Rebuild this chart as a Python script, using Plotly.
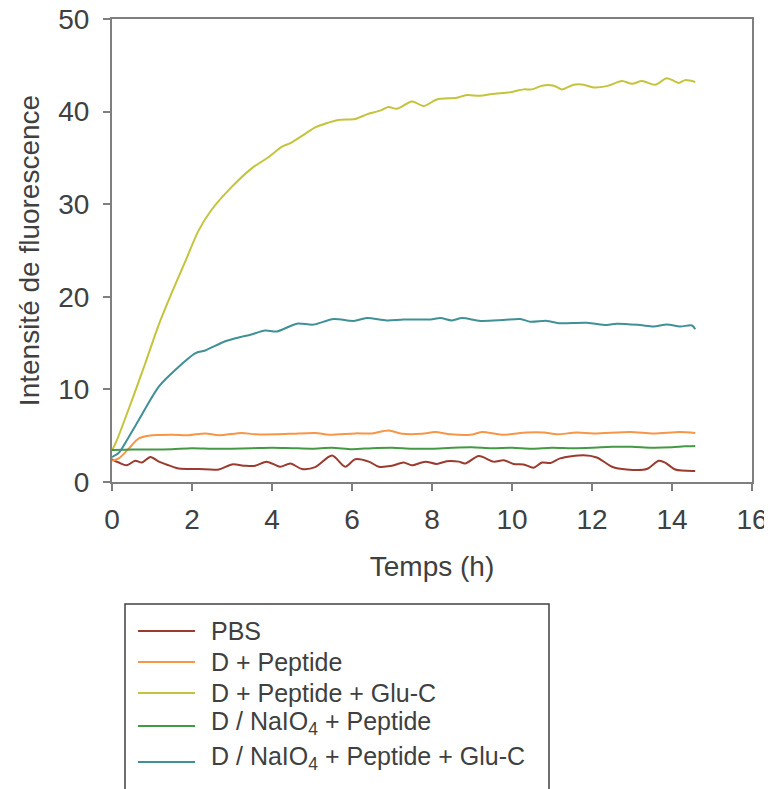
import plotly.graph_objects as go

# ---- data ----
t_pbs = [0, 0.17, 0.37, 0.58, 0.75, 0.96, 1.17, 1.42, 1.67, 2.17, 2.67, 3.0, 3.33, 3.58, 3.87, 4.2, 4.46,
         4.75, 5.08, 5.5, 5.83, 6.08, 6.42, 6.67, 7.0, 7.29, 7.5, 7.83, 8.12, 8.37, 8.67, 8.83, 9.17,
         9.54, 9.79, 10.04, 10.29, 10.54, 10.75, 10.96, 11.2, 11.79, 12.12, 12.5, 12.87, 13.37, 13.67,
         13.83, 14.08, 14.58]
y_pbs = [2.45, 2.1, 1.8, 2.3, 2.1, 2.7, 2.2, 1.8, 1.45, 1.4, 1.35, 1.9, 1.75, 1.75, 2.2, 1.65, 2.0,
         1.4, 1.6, 2.85, 1.65, 2.45, 2.2, 1.65, 1.75, 2.1, 1.8, 2.2, 1.95, 2.25, 2.2, 2.0, 2.8,
         2.2, 2.35, 1.95, 1.9, 1.55, 2.1, 2.05, 2.55, 2.9, 2.65, 1.65, 1.35, 1.4, 2.3,
         2.1, 1.35, 1.2]

t_pep = [0, 0.17, 0.42, 0.67, 0.92, 1.49, 1.92, 2.33, 2.67, 3.25, 3.58, 4.42, 5.08, 5.42, 6.08, 6.5,
         6.92, 7.25, 7.75, 8.08, 8.46, 8.96, 9.25, 9.75, 10.37, 10.79, 11.12, 11.62, 12.04, 12.96,
         13.54, 14.2, 14.58]
y_pep = [2.3, 2.55, 3.6, 4.7, 5.0, 5.1, 5.05, 5.25, 5.05, 5.3, 5.15, 5.2, 5.3, 5.1, 5.25, 5.25,
         5.55, 5.2, 5.2, 5.4, 5.15, 5.1, 5.4, 5.1, 5.35, 5.35, 5.15, 5.35, 5.25, 5.4,
         5.25, 5.4, 5.3]

t_glu = [0, 0.12, 0.5, 0.83, 1.17, 1.49, 1.83, 2.17, 2.49, 3.0, 3.5, 3.92, 4.24, 4.46, 4.83, 5.08,
         5.66, 6.08, 6.37, 6.7, 6.91, 7.12, 7.5, 7.79, 8.12, 8.62, 8.87, 9.2, 9.5, 9.96, 10.29, 10.5,
         10.75, 11.04, 11.25, 11.54, 11.79, 12.04, 12.37, 12.75, 13.0, 13.25, 13.58, 13.87, 14.17,
         14.33, 14.58]
y_glu = [3.4, 4.5, 8.85, 12.8, 17.0, 20.4, 23.8, 27.2, 29.4, 31.9, 33.9, 35.1, 36.2, 36.6, 37.6, 38.3,
         39.1, 39.2, 39.7, 40.1, 40.5, 40.3, 41.1, 40.6, 41.3, 41.5, 41.8, 41.7, 41.9, 42.1, 42.4, 42.4,
         42.8, 42.8, 42.4, 42.9, 42.9, 42.6, 42.75, 43.3, 43.0, 43.3, 42.9, 43.6, 43.1,
         43.4, 43.2]

t_naio = [0, 0.5, 1.0, 1.5, 2.0, 2.5, 3.0, 3.5, 4.0, 4.5, 5.0, 5.5, 6.0, 6.5, 7.0, 7.5, 8.0, 8.5,
          9.0, 9.5, 10.0, 10.5, 11.0, 11.5, 12.0, 12.5, 13.0, 13.5, 14.0, 14.3, 14.58]
y_naio = [3.45, 3.5, 3.5, 3.55, 3.65, 3.6, 3.6, 3.65, 3.7, 3.65, 3.6, 3.7, 3.55, 3.65, 3.7, 3.6,
          3.6, 3.7, 3.75, 3.65, 3.7, 3.6, 3.7, 3.65, 3.7, 3.8, 3.8, 3.7, 3.75, 3.85, 3.9]

t_naio_glu = [0, 0.17, 0.33, 0.67, 1.17, 1.58, 2.08, 2.33, 2.83, 3.25, 3.46, 3.83, 4.12, 4.62, 5.04,
              5.54, 6.04, 6.37, 6.87, 7.29, 7.96, 8.21, 8.5, 8.75, 9.21, 9.79, 10.21, 10.46, 10.87,
              11.17, 11.87, 12.37, 12.62, 13.2, 13.54, 13.87, 14.2, 14.5, 14.58]
y_naio_glu = [2.7, 3.15, 4.2, 6.7, 10.3, 12.1, 13.9, 14.2, 15.2, 15.7, 15.9, 16.35, 16.25, 17.1, 17.0,
              17.6, 17.4, 17.7, 17.45, 17.55, 17.55, 17.7, 17.45, 17.7, 17.4, 17.5, 17.6, 17.3, 17.4,
              17.15, 17.2, 16.95, 17.1, 16.95, 16.8, 17.0, 16.8, 16.9, 16.5]

series_names = ["PBS", "D + Peptide", "D + Peptide + Glu-C",
                "D / NaIO<sub>4</sub> + Peptide", "D / NaIO<sub>4</sub> + Peptide + Glu-C"]
series_colors = ["#9B3A2E", "#F79646", "#C4C43C", "#449A44", "#3F9097"]
series_t = [t_pbs, t_pep, t_glu, t_naio, t_naio_glu]
series_y = [y_pbs, y_pep, y_glu, y_naio, y_naio_glu]

x_ticks = [0, 2, 4, 6, 8, 10, 12, 14, 16]
y_ticks = [0, 10, 20, 30, 40, 50]

FONT = "Liberation Sans, Arial, sans-serif"
TXT = "#404040"
AX = "#7F7F7F"

fig = go.Figure()
for name, col, tt, yy in zip(series_names, series_colors, series_t, series_y):
    fig.add_trace(go.Scatter(x=tt, y=yy, mode="lines", name=name, showlegend=False,
                             line=dict(color=col, width=2, shape="spline", smoothing=0.8)))

OFF = 8  # page body margin
W, H = 772 - OFF, 789 - OFF
L, T = 112 - OFF, 19 - OFF
R = W - (752 - OFF)
B = H - (482 - OFF)
pw, ph = W - L - R, H - T - B

def px_x(p):
    return (p - OFF - L) / pw

def px_y(p):
    return (H - B - (p - OFF)) / ph

# legend drawn as a boxed key (page pixel positions)
leg_line_y = [631, 662, 693, 726, 762]
leg_text_y = [631, 662, 693, 723, 758]
shapes = [dict(type="rect", xref="paper", yref="paper",
               x0=px_x(125), x1=px_x(549), y0=px_y(604), y1=px_y(840),
               line=dict(color="#404040", width=1.5), fillcolor="rgba(0,0,0,0)", layer="below")]
annotations = []
for name, col, ly, ty in zip(series_names, series_colors, leg_line_y, leg_text_y):
    shapes.append(dict(type="line", xref="paper", yref="paper",
                       x0=px_x(138), x1=px_x(195), y0=px_y(ly), y1=px_y(ly),
                       line=dict(color=col, width=2)))
    annotations.append(dict(text=name, xref="paper", yref="paper", x=px_x(209), y=px_y(ty),
                            xanchor="left", yanchor="middle", showarrow=False,
                            font=dict(size=25, color=TXT, family=FONT)))

fig.update_layout(
    width=W, height=H,
    margin=dict(l=L, r=R, t=T, b=B, autoexpand=False),
    paper_bgcolor="white", plot_bgcolor="white",
    font=dict(family=FONT, color=TXT, size=28),
    showlegend=False,
    xaxis=dict(range=[0, 16], tickvals=x_ticks, ticks="outside", ticklen=7, tickwidth=2,
               tickcolor=AX, showline=True, linecolor=AX, linewidth=2, mirror=True,
               showgrid=False, zeroline=False, ticklabelstandoff=4, ticklabeloverflow="allow",
               tickfont=dict(size=28, color=TXT, family=FONT),
               title=dict(text="Temps (h)", font=dict(size=28, color=TXT, family=FONT), standoff=23)),
    yaxis=dict(range=[0, 50], tickvals=y_ticks, ticks="outside", ticklen=7, tickwidth=2,
               tickcolor=AX, showline=True, linecolor=AX, linewidth=2, mirror=True,
               showgrid=False, zeroline=False, ticklabelstandoff=8, ticklabeloverflow="allow",
               tickfont=dict(size=28, color=TXT, family=FONT),
               title=dict(text="Intensité de fluorescence",
                          font=dict(size=28, color=TXT, family=FONT), standoff=10)),
    shapes=shapes,
    annotations=annotations,
)

fig.write_html("out.html")
